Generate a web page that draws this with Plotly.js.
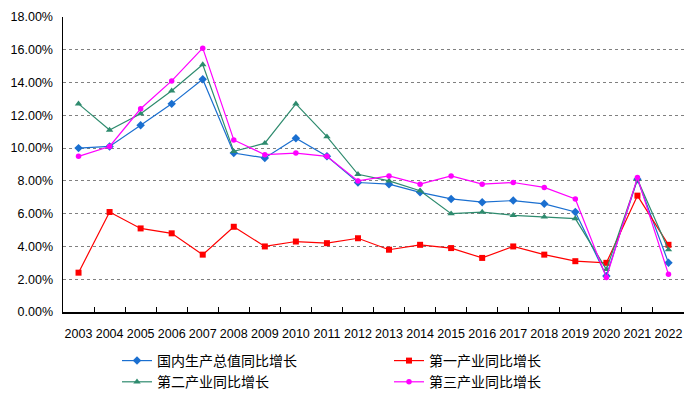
<!DOCTYPE html>
<html><head><meta charset="utf-8">
<script src="https://cdn.plot.ly/plotly-3.0.1.min.js"></script>
<style>html,body{margin:0;padding:0;background:#fff}#c{width:688px;height:396px}</style>
</head><body><div id="c"></div>
<script>
const years = ['2003','2004','2005','2006','2007','2008','2009','2010','2011','2012','2013','2014','2015','2016','2017','2018','2019','2020','2021','2022'];
const gdp = [10.0,10.1,11.4,12.7,14.2,9.7,9.4,10.6,9.5,7.9,7.8,7.3,6.9,6.7,6.8,6.6,6.1,2.2,8.1,3.0];
const primary = [2.4,6.1,5.1,4.8,3.5,5.2,4.0,4.3,4.2,4.5,3.8,4.1,3.9,3.3,4.0,3.5,3.1,3.0,7.1,4.1];
const secondary = [12.7,11.1,12.1,13.5,15.1,9.8,10.3,12.7,10.7,8.4,8.0,7.4,6.0,6.1,5.9,5.8,5.7,2.6,8.1,3.8];
const tertiary = [9.5,10.1,12.4,14.1,16.1,10.5,9.6,9.7,9.5,8.0,8.3,7.8,8.3,7.8,7.9,7.6,6.9,2.1,8.2,2.3];
const names = ['国内生产总值同比增长','第一产业同比增长','第二产业同比增长','第三产业同比增长'];

function tr(y, name, color, symbol, size, legend){
  return {x: years, y: y, name: name, type: 'scatter', mode: 'lines+markers', legend: legend,
    line: {color: color, width: 1.2}, marker: {color: color, symbol: symbol, size: size}};
}
const data = [
  tr(gdp, names[0], '#1a6fd0', 'diamond', 6.5, 'legend'),
  tr(primary, names[1], '#ff0000', 'square', 6, 'legend2'),
  tr(secondary, names[2], '#2e8b6e', 'triangle-up', 6.5, 'legend'),
  tr(tertiary, names[3], '#ff00ff', 'circle', 5.5, 'legend2')
];
const legFont = {family: 'Noto Sans CJK SC, sans-serif', size: 14, color: '#000'};
const layout = {
  width: 688, height: 396,
  margin: {l: 63, r: 4, t: 17, b: 84, autoexpand: false},
  paper_bgcolor: '#fff', plot_bgcolor: '#fff',
  font: {family: 'Liberation Sans, Arial, sans-serif', size: 12, color: '#000'},
  xaxis: {type: 'category', tickson: 'boundaries', ticks: 'inside', ticklen: 5, tickcolor: '#000',
    showline: true, linecolor: '#000', linewidth: 1.5, showgrid: false, zeroline: false, automargin: false,
    tickfont: {size: 12.5}, tickangle: 0, range: [-0.5, 19.5], ticklabelstandoff: 9},
  yaxis: {range: [0, 18], dtick: 2, tickformat: '.2f', ticksuffix: '%', showline: true, linecolor: '#000',
    linewidth: 1.5, showgrid: true, gridcolor: '#808080', griddash: 'dot', gridwidth: 1, zeroline: false,
    automargin: false, ticks: '', tickfont: {size: 12.5}, ticklabelstandoff: 6},
  legend: {orientation: 'v', xref: 'container', x: 117/688, xanchor: 'left', yref: 'container', y: (396-345)/396, yanchor: 'top',
    tracegroupgap: 0, itemwidth: 30, font: legFont, bgcolor: 'rgba(0,0,0,0)'},
  legend2: {orientation: 'v', xref: 'container', x: 389/688, xanchor: 'left', yref: 'container', y: (396-345)/396, yanchor: 'top',
    tracegroupgap: 0, itemwidth: 30, font: legFont, bgcolor: 'rgba(0,0,0,0)'},
  showlegend: true
};
Plotly.newPlot('c', data, layout, {displayModeBar: false, staticPlot: true});
</script></body></html>
